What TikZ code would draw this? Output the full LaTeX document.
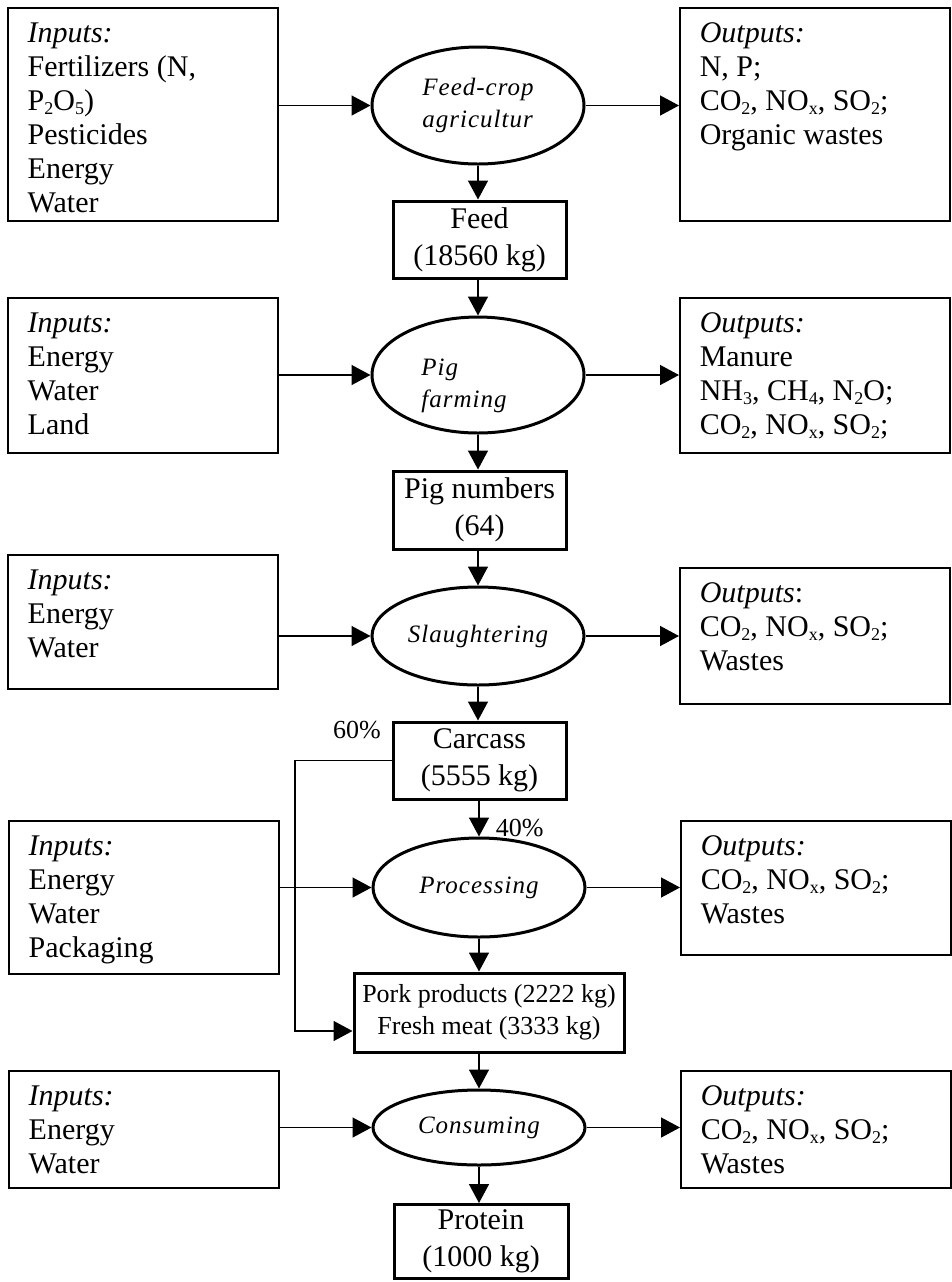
\documentclass[tikz,border=0pt]{standalone}
\usepackage{fontspec}
\setmainfont{Liberation Serif}
\newfontfamily\procfont[LetterSpace=4]{Liberation Serif}
\usetikzlibrary{shapes.geometric,arrows.meta}
\newcommand{\iotext}[2]{\parbox[c][#1][t]{115pt}{#2}}
\newcommand{\lowsub}[1]{\raisebox{-1.8pt}{\fontsize{9}{9}\selectfont#1}}
\begin{document}
\begin{tikzpicture}[x=0.5pt,y=-0.5pt,line width=0.75pt,
iobox/.style={draw,rectangle,anchor=north west,inner xsep=10pt,inner ysep=7.5pt,line width=0.75pt,font=\fontsize{15}{17}\selectfont},
procbox/.style={draw,rectangle,align=center,inner sep=2pt,line width=1.5pt,minimum width=86.5pt,minimum height=38.5pt,font=\fontsize{15}{18.5}\selectfont},
process/.style={draw,ellipse,align=left,inner sep=0pt,line width=1.5pt,minimum width=106pt,font=\procfont\itshape\fontsize{12.5}{16}\selectfont},
pct/.style={inner sep=0pt,font=\fontsize{13}{15}\selectfont},
flow/.style={-{Triangle[length=9.5pt,width=10pt]},line width=0.75pt}]
\useasboundingbox (0,0) rectangle (952,1282);
\draw (7,7) node[iobox] (in1) {\iotext{91.5pt}{\textit{Inputs:}\\Fertilizers (N,\\P\lowsub{2}O\lowsub{5})\\Pesticides\\Energy\\Water}};
\draw (679,7) node[iobox] (out1) {\iotext{91.5pt}{\textit{Outputs:}\\N, P;\\CO\lowsub{2}, NO\lowsub{x}, SO\lowsub{2};\\Organic wastes}};
\draw (7,297) node[iobox] (in2) {\iotext{62.5pt}{\textit{Inputs:}\\Energy\\Water\\Land}};
\draw (679,297) node[iobox] (out2) {\iotext{62.5pt}{\textit{Outputs:}\\Manure\\NH\lowsub{3}, CH\lowsub{4}, N\lowsub{2}O;\\CO\lowsub{2}, NO\lowsub{x}, SO\lowsub{2};}};
\draw (7,554) node[iobox] (in3) {\iotext{52pt}{\textit{Inputs:}\\Energy\\Water}};
\draw (679,567) node[iobox] (out3) {\iotext{53pt}{\textit{Outputs}:\\CO\lowsub{2}, NO\lowsub{x}, SO\lowsub{2};\\Wastes}};
\draw (8,820) node[iobox] (in4) {\iotext{61.5pt}{\textit{Inputs:}\\Energy\\Water\\Packaging}};
\draw (680,820) node[iobox] (out4) {\iotext{52pt}{\textit{Outputs:}\\CO\lowsub{2}, NO\lowsub{x}, SO\lowsub{2};\\Wastes}};
\draw (8,1070) node[iobox] (in5) {\iotext{43.5pt}{\textit{Inputs:}\\Energy\\Water}};
\draw (680,1070) node[iobox] (out5) {\iotext{43.5pt}{\textit{Outputs:}\\CO\lowsub{2}, NO\lowsub{x}, SO\lowsub{2};\\Wastes}};
\draw (478,105.5) node[process,minimum height=58.5pt] (farm) {Feed-crop\\agricultur};
\draw (478,375) node[process,minimum height=58pt,text height=35pt] (pigfarm) {Pig\\farming\hspace*{14pt}};
\draw (478,636) node[process,minimum height=49pt] (slaughter) {Slaughtering};
\draw (479,887.5) node[process,minimum height=49.5pt] (processing) {Processing};
\draw (479,1127.5) node[process,minimum height=37.5pt] (consume) {Consuming};
\draw (479.5,239.5) node[procbox] (feed) {Feed\\(18560 kg)};
\draw (479.5,510) node[procbox,minimum height=39pt] (pigs) {Pig numbers\\(64)};
\draw (479.5,760.5) node[procbox] (carcass) {Carcass\\(5555 kg)};
\draw (489,1012.5) node[procbox,minimum width=135pt,minimum height=39.5pt,font=\fontsize{13}{16}\selectfont] (pork) {Pork products (2222 kg)\\Fresh meat (3333 kg)};
\draw (481,1241.5) node[procbox,minimum width=87pt,minimum height=37pt] (protein) {Protein\\(1000 kg)};
\draw[flow] (farm.west -| in1.east) -- (farm.west);
\draw[flow] (farm.east) -- (farm.east -| out1.west);
\draw[flow] (pigfarm.west -| in2.east) -- (pigfarm.west);
\draw[flow] (pigfarm.east) -- (pigfarm.east -| out2.west);
\draw[flow] (slaughter.west -| in3.east) -- (slaughter.west);
\draw[flow] (slaughter.east) -- (slaughter.east -| out3.west);
\draw[flow] (processing.west -| in4.east) -- (processing.west);
\draw[flow] (processing.east) -- (processing.east -| out4.west);
\draw[flow] (consume.west -| in5.east) -- (consume.west);
\draw[flow] (consume.east) -- (consume.east -| out5.west);
\draw[flow] (farm.south) -- (farm.south |- feed.north);
\draw[flow] (feed.south -| pigfarm.north) -- (pigfarm.north);
\draw[flow] (pigfarm.south) -- (pigfarm.south |- pigs.north);
\draw[flow] (pigs.south -| slaughter.north) -- (slaughter.north);
\draw[flow] (slaughter.south) -- (slaughter.south |- carcass.north);
\draw[flow] (carcass.south -| processing.north) -- (processing.north) node[pct,anchor=base west,xshift=8pt] (pct40) {40\%};
\draw[flow] (processing.south) -- (processing.south |- pork.north);
\draw[flow] (pork.south -| consume.north) -- (consume.north);
\draw[flow] (consume.south) -- (consume.south |- protein.north);
\coordinate (split) at (295,1031);
\draw[flow] (carcass.west) -| (split) -- (split -| pork.west);
\node[pct,anchor=north east] (pct60) at ([xshift=-5pt]carcass.north west) {60\%};
\end{tikzpicture}
\end{document}
